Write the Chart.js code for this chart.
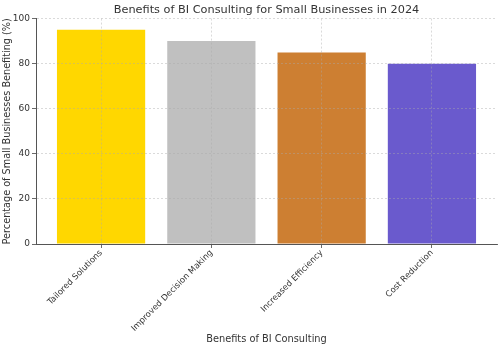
<!DOCTYPE html>
<html>
<head>
<meta charset="utf-8">
<script src="https://cdn.jsdelivr.net/npm/chart.js@4"></script>
<style>
  html, body { margin: 0; padding: 0; background: #fff; }
  #wrap { width: 500px; height: 349px; }
</style>
</head>
<body>
<div id="wrap"><canvas id="myChart" width="500" height="349"></canvas></div>
<script>
// benefits bar chart
const categories = ['Tailored Solutions', 'Improved Decision Making', 'Increased Efficiency', 'Cost Reduction']
const benefitValues = [95, 90, 85, 80]
const barColors = ['#FFD700', '#C0C0C0', '#CD7F32', '#6A5ACD']
const yTicks = [0, 20, 40, 60, 80, 100]

const ctx = document.getElementById('myChart').getContext('2d')
const font = 'DejaVu Sans'
// grid sits on top of the bars (z: 1), like the original
const gridStyle = {color: 'rgba(170,170,170,0.55)', lineWidth: 0.8, tickColor: '#444', tickLength: 4, offset: false, z: 1}

// center the title over the plot area, like matplotlib does
const titleOverPlot = {
    id: 'titleOverPlot',
    afterLayout: chart => {
        const t = chart.titleBlock
        if (t) { t.left = chart.chartArea.left; t.right = chart.chartArea.right }
    }
}

let myChart = new Chart(ctx, {
    type: 'bar',
    data: {
        datasets: [{
            data: benefitValues.map((v, i) => ({x: i, y: v})),
            backgroundColor: barColors,
            borderWidth: 0,
            barPercentage: 0.8,
            categoryPercentage: 1
        }]
    },
    options: {
        responsive: false,
        animation: false,
        layout: {padding: {top: 3, right: 3, left: 2, bottom: 4}},
        plugins: {
            legend: {display: false},
            tooltip: {enabled: false},
            title: {
                display: true,
                text: 'Benefits of BI Consulting for Small Businesses in 2024',
                color: '#333',
                font: {family: font, size: 11.3, weight: 'normal'},
                padding: {top: 0, bottom: 2}
            }
        },
        scales: {
            x: {
                type: 'linear',
                offset: false,
                min: -0.59,
                max: 3.59,
                afterBuildTicks: axis => { axis.ticks = categories.map((c, i) => ({value: i})) },
                afterFit: axis => { axis.height = 101 },
                ticks: {
                    callback: v => categories[v],
                    maxRotation: 45,
                    minRotation: 45,
                    color: '#333',
                    font: {family: font, size: 8.4},
                    padding: 0
                },
                grid: {...gridStyle},
                border: {display: true, color: '#555', width: 1, dash: [2, 2], z: 2},
                title: {
                    display: true,
                    text: 'Benefits of BI Consulting',
                    color: '#333',
                    font: {family: font, size: 9.8},
                    padding: {top: 2, bottom: 0}
                }
            },
            y: {
                min: 0,
                max: 100,
                afterBuildTicks: axis => { axis.ticks = yTicks.map(v => ({value: v})) },
                afterFit: axis => { axis.width = 34 },
                ticks: {color: '#333', font: {family: font, size: 9}, padding: 2},
                grid: {...gridStyle},
                border: {display: true, color: '#555', width: 1, dash: [2, 2], z: 2},
                title: {
                    display: true,
                    text: 'Percentage of Small Businesses Benefiting (%)',
                    color: '#333',
                    font: {family: font, size: 9.7},
                    padding: {top: 0, bottom: 0}
                }
            }
        }
    },
    plugins: [titleOverPlot]
})
</script>
</body>
</html>
